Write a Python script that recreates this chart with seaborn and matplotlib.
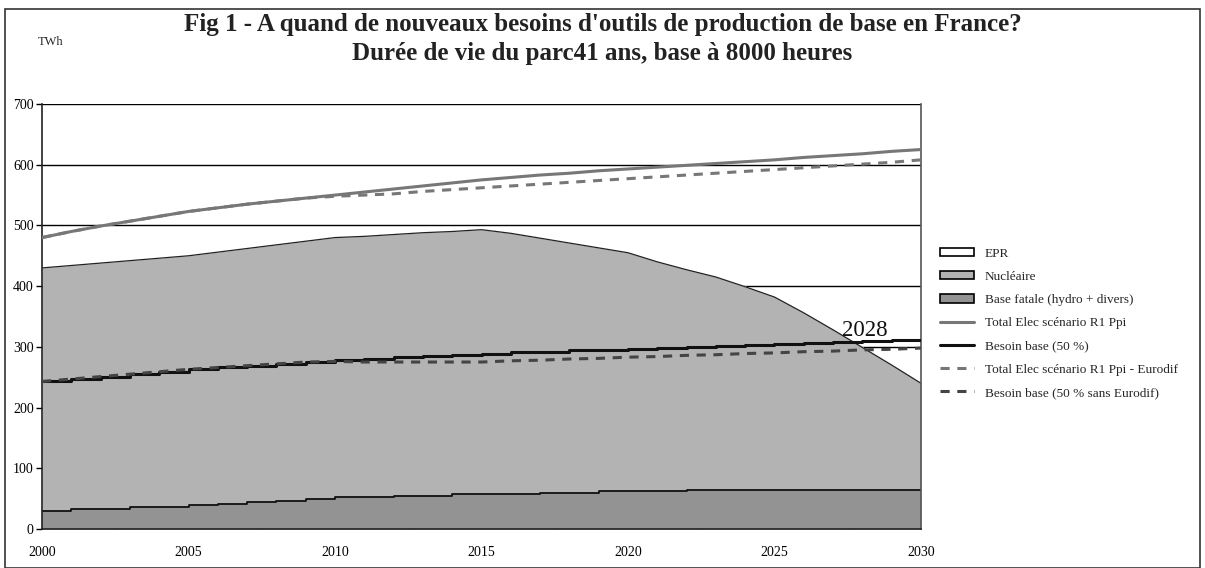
import numpy as np
import pandas as pd
import matplotlib
matplotlib.use('Agg')
import matplotlib.pyplot as plt
import seaborn as sns
from matplotlib.patches import Patch
from matplotlib.lines import Line2D
from matplotlib.ticker import MultipleLocator

# Donnees (TWh)
annees = list(range(2000, 2031))
base_fatale = [30, 33, 33, 36, 37, 39, 41, 44, 46, 49, 52, 52, 55, 55, 57, 57,
               58, 60, 60, 62, 62, 62, 65, 65, 65, 65, 65, 65, 65, 65, 65]
total_nucleaire = [430, 434, 438, 442, 446, 450, 456, 462, 468, 474, 480, 482, 485, 488, 490, 493,
                   487, 479, 471, 463, 455, 440, 427, 415, 399, 382, 356, 328, 299, 270, 240]
epr = [0] * 31
total_elec = [480, 490, 499, 507, 515, 523, 529, 535, 540, 545, 550, 555, 560, 565, 570, 575,
              579, 583, 586, 590, 593, 596, 599, 602, 605, 608, 612, 615, 618, 622, 625]
besoin_base = [243, 247, 251, 255, 259, 263, 266, 269, 272, 275, 278, 280, 283, 285, 287, 289,
               291, 292, 294, 295, 297, 298, 300, 302, 303, 305, 306, 308, 309, 311, 312]
total_sans_eurodif = [480, 490, 499, 507, 515, 523, 529, 535, 540, 545, 548, 550, 552, 556, 559, 562,
                      565, 568, 571, 574, 577, 580, 583, 586, 589, 592, 595, 598, 601, 604, 608]
besoin_sans_eurodif = [243, 247, 251, 255, 259, 263, 266, 269, 272, 275, 276, 275, 275, 275, 275, 275,
                       277, 278, 280, 281, 283, 284, 286, 287, 289, 290, 292, 293, 295, 296, 298]

df = pd.DataFrame({
    'annee': annees,
    'base_fatale': base_fatale,
    'total_nucleaire': total_nucleaire,
    'total_epr': np.array(total_nucleaire) + np.array(epr),
    'total_elec': total_elec,
    'besoin_base': besoin_base,
    'total_sans_eurodif': total_sans_eurodif,
    'besoin_sans_eurodif': besoin_sans_eurodif,
})

sns.set_style('white')
plt.rcParams['font.family'] = ['Liberation Serif', 'DejaVu Serif']

fig = plt.figure(figsize=(12.05, 5.68), dpi=100)
ax = fig.add_axes([0.0349, 0.0687, 0.7294, 0.7482])

# Grille horizontale derriere les aires
for y in range(100, 701, 100):
    ax.axhline(y, color='black', lw=1.0, zorder=0)

# Aires empilees (EPR, nucleaire, base fatale)
ax.fill_between(df['annee'], df['total_nucleaire'], df['total_epr'], color='white', zorder=1)
ax.fill_between(df['annee'], 0, df['total_nucleaire'], color='#b3b3b3', lw=0, zorder=1)
ax.fill_between(df['annee'], 0, df['base_fatale'], step='post', color='#939393', lw=0, zorder=1.5)
ax.step(df['annee'], df['base_fatale'], where='post', color='#111111', lw=1.3, zorder=2)
ax.plot(df['annee'], df['total_nucleaire'], color='#222222', lw=0.9, zorder=2)

# Courbes
sns.lineplot(data=df, x='annee', y='total_elec', color='#777777', lw=2.2, ax=ax, zorder=3)
sns.lineplot(data=df, x='annee', y='total_sans_eurodif', color='#777777', lw=2.2,
             ls=(0, (3, 2.5)), ax=ax, zorder=3)
sns.lineplot(data=df, x='annee', y='besoin_base', color='#111111', lw=2.2,
             drawstyle='steps-post', ax=ax, zorder=3)
sns.lineplot(data=df, x='annee', y='besoin_sans_eurodif', color='#444444', lw=2.2,
             ls=(0, (3, 2.5)), ax=ax, zorder=3)

ax.set_xlim(2000, 2030)
ax.set_ylim(0, 700)
ax.set_xlabel('')
ax.set_ylabel('')
ax.set_yticks(range(0, 701, 100))
ax.set_xticks(range(2000, 2031, 5))
ax.xaxis.set_minor_locator(MultipleLocator(2.5))
ax.tick_params(axis='both', which='major', direction='out', length=4, width=1,
               labelsize=10, colors='black')
ax.tick_params(axis='x', which='minor', direction='in', length=4, width=1, bottom=True)
ax.tick_params(axis='x', which='major', pad=8)
ax.tick_params(axis='y', which='major', left=True, pad=2)
for s in ['left', 'bottom']:
    ax.spines[s].set_color('#222222')
    ax.spines[s].set_linewidth(1.2)
ax.spines['right'].set_color('#555555')
ax.spines['right'].set_linewidth(1.2)
ax.spines['top'].set_visible(False)

ax.text(2027.3, 318, '2028', fontsize=16.5, color='#111111')

fig.text(0.5, 0.956, "Fig 1 - A quand de nouveaux besoins d'outils de production de base en France?",
         ha='center', va='center', fontsize=18, fontweight='bold', color='#222222')
fig.text(0.5, 0.906, "Durée de vie du parc41 ans, base à 8000 heures",
         ha='center', va='center', fontsize=18, fontweight='bold', color='#222222')
fig.text(0.031, 0.926, 'TWh', fontsize=9, ha='left', va='center')

# Cadre general
fig.patches.append(plt.Rectangle((0.004, 0.0), 0.992, 0.985, transform=fig.transFigure,
                                 fill=False, edgecolor='#333333', lw=1.2))

handles = [
    Patch(facecolor='white', edgecolor='black', lw=1.2),
    Patch(facecolor='#b3b3b3', edgecolor='black', lw=1.2),
    Patch(facecolor='#939393', edgecolor='black', lw=1.2),
    Line2D([], [], color='#777777', lw=2.2),
    Line2D([], [], color='#111111', lw=2.2),
    Line2D([], [], color='#777777', lw=2.2, ls=(0, (3, 2.5))),
    Line2D([], [], color='#444444', lw=2.2, ls=(0, (3, 2.5))),
]
labels = ['EPR', 'Nucléaire', 'Base fatale (hydro + divers)', 'Total Elec scénario R1 Ppi',
          'Besoin base (50 %)', 'Total Elec scénario R1 Ppi - Eurodif',
          'Besoin base (50 % sans Eurodif)']
fig.legend(handles, labels, loc='upper left', bbox_to_anchor=(0.77, 0.585), frameon=False,
           fontsize=9.5, handlelength=2.6, handleheight=0.6, labelspacing=0.85,
           handletextpad=0.8)

fig.savefig('out.png', dpi=100)
